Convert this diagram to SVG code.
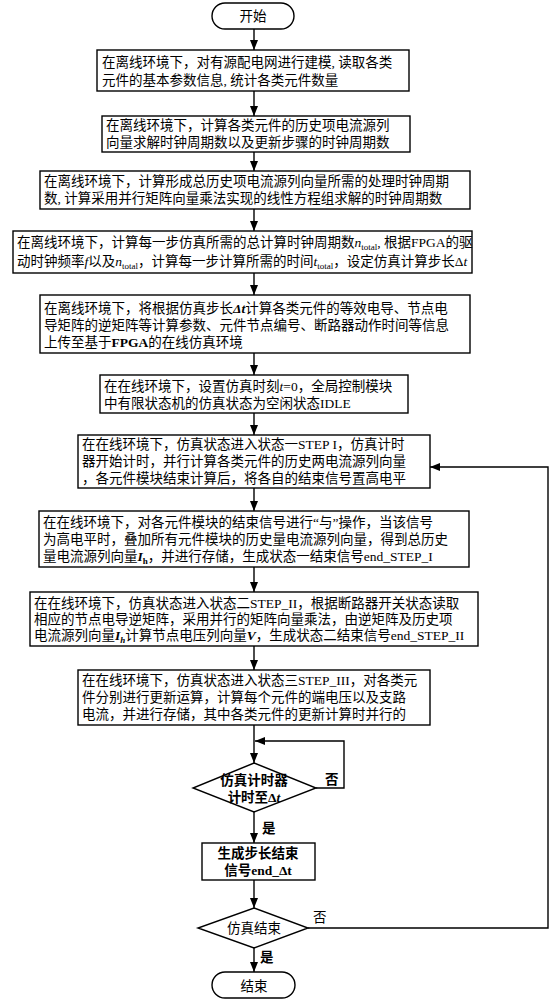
<svg xmlns="http://www.w3.org/2000/svg" width="552" height="1000" viewBox="0 0 552 1000">
<style>
  .bx{fill:#fff;stroke:#000;stroke-width:1.4}
  .t{font-family:"Liberation Serif","Noto Sans CJK SC",serif;font-size:13.5px;fill:#000}
  .c{text-anchor:middle}
  .b{font-weight:bold}
  .ln{fill:none;stroke:#000;stroke-width:1.4}
  .i{font-style:italic}
  .s{font-size:9px}
</style>
<defs>
  <marker id="ah" markerUnits="userSpaceOnUse" markerWidth="10" markerHeight="10" viewBox="0 0 10 10" refX="10" refY="5" orient="auto">
    <path d="M0,1 L10,5 L0,9 Z" fill="#000"/>
  </marker>
</defs>
<rect width="552" height="1000" fill="#fff"/>

<g id="connectors">
  <line class="ln" x1="254" y1="29" x2="254" y2="50" marker-end="url(#ah)"/>
  <line class="ln" x1="254" y1="91" x2="254" y2="116" marker-end="url(#ah)"/>
  <line class="ln" x1="254" y1="152" x2="254" y2="171" marker-end="url(#ah)"/>
  <line class="ln" x1="254" y1="209" x2="254" y2="231" marker-end="url(#ah)"/>
  <line class="ln" x1="254" y1="273" x2="254" y2="295" marker-end="url(#ah)"/>
  <line class="ln" x1="254" y1="353" x2="254" y2="375" marker-end="url(#ah)"/>
  <line class="ln" x1="254" y1="413" x2="254" y2="435" marker-end="url(#ah)"/>
  <line class="ln" x1="254" y1="488" x2="254" y2="511" marker-end="url(#ah)"/>
  <line class="ln" x1="254" y1="567" x2="254" y2="592" marker-end="url(#ah)"/>
  <line class="ln" x1="254" y1="646" x2="254" y2="670" marker-end="url(#ah)"/>
  <line class="ln" x1="254" y1="725" x2="254" y2="763" marker-end="url(#ah)"/>
  <polyline class="ln" points="316,788 344,788 344,741 255,741" marker-end="url(#ah)"/>
  <line class="ln" x1="254" y1="812" x2="254" y2="843" marker-end="url(#ah)"/>
  <line class="ln" x1="254" y1="880" x2="254" y2="908" marker-end="url(#ah)"/>
  <polyline class="ln" points="308,928 548,928 548,467 430,467" marker-end="url(#ah)"/>
  <line class="ln" x1="254" y1="948" x2="254" y2="972" marker-end="url(#ah)"/>
  <text class="t b" x="325" y="784" font-size="12">否</text>
  <text class="t b" x="262" y="833" font-size="12">是</text>
  <text class="t" x="313" y="922" font-size="12">否</text>
  <text class="t b" x="260" y="962" font-size="12">是</text>
</g>

<g id="start">
  <rect class="bx" x="212" y="3" width="82" height="26" rx="13"/>
  <text class="t c" x="253" y="21" font-size="15">开始</text>
</g>

<g id="box1">
  <rect class="bx" x="97" y="50" width="312" height="41"/>
  <text class="t" x="102" y="67">在离线环境下，对有源配电网进行建模, 读取各类</text>
  <text class="t" x="102" y="85">元件的基本参数信息, 统计各类元件数量</text>
</g>

<g id="box2">
  <rect class="bx" x="102" y="116" width="308" height="36"/>
  <text class="t" x="106" y="130">在离线环境下，计算各类元件的历史项电流源列</text>
  <text class="t" x="106" y="147">向量求解时钟周期数以及更新步骤的时钟周期数</text>
</g>

<g id="box3">
  <rect class="bx" x="40" y="171" width="430" height="38"/>
  <text class="t" x="44" y="186">在离线环境下，计算形成总历史项电流源列向量所需的处理时钟周期</text>
  <text class="t" x="44" y="203">数, 计算采用并行矩阵向量乘法实现的线性方程组求解的时钟周期数</text>
</g>

<g id="box4">
  <rect class="bx" x="13" y="231" width="459" height="42"/>
  <text class="t" x="17" y="247" font-size="13">在离线环境下，计算每一步仿真所需的总计算时钟周期数<tspan class="i">n</tspan><tspan class="s" dy="3">total</tspan><tspan dy="-3">, 根据FPGA的驱</tspan></text>
  <text class="t" x="17" y="266" font-size="13">动时钟频率<tspan class="i">f</tspan>以及<tspan class="i">n</tspan><tspan class="s" dy="3">total</tspan><tspan dy="-3">，计算每一步计算所需的时间</tspan><tspan class="i">t</tspan><tspan class="s" dy="3">total</tspan><tspan dy="-3">，设定仿真计算步长Δ</tspan><tspan class="i">t</tspan></text>
</g>

<g id="box5">
  <rect class="bx" x="40" y="295" width="430" height="58"/>
  <text class="t" x="44" y="313">在离线环境下，将根据仿真步长<tspan class="b i">Δt</tspan>计算各类元件的等效电导、节点电</text>
  <text class="t" x="44" y="330">导矩阵的逆矩阵等计算参数、元件节点编号、断路器动作时间等信息</text>
  <text class="t" x="44" y="347">上传至基于<tspan class="b">FPGA</tspan>的在线仿真环境</text>
</g>

<g id="box6">
  <rect class="bx" x="100" y="375" width="308" height="38"/>
  <text class="t" x="104" y="391">在在线环境下，设置仿真时刻<tspan class="i">t</tspan>=0，全局控制模块</text>
  <text class="t" x="104" y="408">中有限状态机的仿真状态为空闲状态IDLE</text>
</g>

<g id="box7">
  <rect class="bx" x="78" y="435" width="352" height="53"/>
  <text class="t" x="82" y="449">在在线环境下，仿真状态进入状态一STEP I，仿真计时</text>
  <text class="t" x="82" y="466">器开始计时，并行计算各类元件的历史两电流源列向量</text>
  <text class="t" x="82" y="483">，各元件模块结束计算后，将各自的结束信号置高电平</text>
</g>

<g id="box8">
  <rect class="bx" x="39" y="511" width="430" height="56"/>
  <text class="t" x="43" y="527">在在线环境下，对各元件模块的结束信号进行“与”操作，当该信号</text>
  <text class="t" x="43" y="544">为高电平时，叠加所有元件模块的历史量电流源列向量，得到总历史</text>
  <text class="t" x="43" y="561">量电流源列向量<tspan class="b i">I</tspan><tspan class="s b" dy="3">h</tspan><tspan dy="-3">，并进行存储，生成状态一结束信号end_STEP_I</tspan></text>
</g>

<g id="box9">
  <rect class="bx" x="30" y="592" width="448" height="54"/>
  <text class="t" x="34" y="608">在在线环境下，仿真状态进入状态二STEP_II，根据断路器开关状态读取</text>
  <text class="t" x="34" y="624">相应的节点电导逆矩阵，采用并行的矩阵向量乘法，由逆矩阵及历史项</text>
  <text class="t" x="34" y="640">电流源列向量<tspan class="b i">I</tspan><tspan class="s b i" dy="3">h</tspan><tspan dy="-3">计算节点电压列向量</tspan><tspan class="b i">V</tspan>，生成状态二结束信号end_STEP_II</text>
</g>

<g id="box10">
  <rect class="bx" x="78" y="670" width="352" height="55"/>
  <text class="t" x="82" y="685">在在线环境下，仿真状态进入状态三STEP_III，对各类元</text>
  <text class="t" x="82" y="702">件分别进行更新运算，计算每个元件的端电压以及支路</text>
  <text class="t" x="82" y="719">电流，并进行存储，其中各类元件的更新计算时并行的</text>
</g>

<g id="decision1">
  <polygon class="bx" points="254,763 316,788 254,812 193,788"/>
  <text class="t c b" x="254" y="785" font-size="12.5">仿真计时器</text>
  <text class="t c b" x="254" y="802" font-size="12.5">计时至Δ<tspan class="i">t</tspan></text>
</g>

<g id="box11">
  <rect class="bx" x="202" y="843" width="113" height="37"/>
  <text class="t c b" x="258" y="858" font-size="14">生成步长结束</text>
  <text class="t c b" x="258" y="875" font-size="14">信号end_Δt</text>
</g>

<g id="decision2">
  <polygon class="bx" points="254,908 308,928 254,948 198,928"/>
  <text class="t c" x="254" y="933" font-size="14">仿真结束</text>
</g>

<g id="end">
  <rect class="bx" x="212" y="972" width="83" height="26" rx="13"/>
  <text class="t c" x="254" y="991" font-size="16">结束</text>
</g>
</svg>
